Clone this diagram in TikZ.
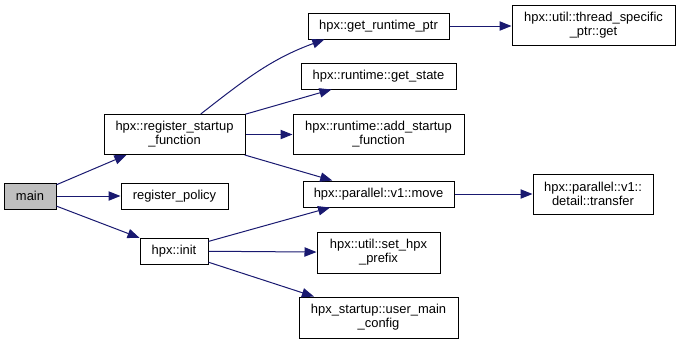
\documentclass[tikz,border=0pt]{standalone}
\usepackage{fontspec}
\setmainfont{Liberation Sans}
\usetikzlibrary{arrows.meta}
\definecolor{edgeblue}{HTML}{191970}
\definecolor{rootgray}{HTML}{BFBFBF}
\tikzset{
  fnbox/.style 2 args={draw=black, line width=0.75pt, fill=white, inner sep=0pt,
    align=center, font=\fontsize{9.7pt}{10.6pt}\selectfont,
    minimum width=#1*0.75pt, minimum height=#2*0.75pt},
  call/.style={draw=edgeblue, line width=0.75pt,
    -{Triangle[length=9pt,width=7pt]}}
}
\begin{document}
\begin{tikzpicture}[x=0.75pt,y=0.75pt]
  \useasboundingbox (0,0) rectangle (680,344);
  % functions
  \node[fnbox={52}{26}, fill=rootgray] (main) at (30,148) {main};
  \node[fnbox={141}{40}] (rsf) at (174.5,209.5) {hpx::register\_startup\\\_function};
  \node[fnbox={107}{26}] (rp) at (174.5,148) {register\_policy};
  \node[fnbox={68}{26}] (init) at (174,93) {hpx::init};
  \node[fnbox={141}{26}] (grp) at (378.5,318) {hpx::get\_runtime\_ptr};
  \node[fnbox={163}{40}] (tsp) at (593.5,318.5) {hpx::util::thread\_specific\\\_ptr::get};
  \node[fnbox={155}{26}] (gs) at (378.5,268) {hpx::runtime::get\_state};
  \node[fnbox={171}{40}] (asf) at (378.5,209.5) {hpx::runtime::add\_startup\\\_function};
  \node[fnbox={151}{26}] (move) at (378.5,150) {hpx::parallel::v1::move};
  \node[fnbox={120}{40}] (xfer) at (593,150) {hpx::parallel::v1::\\detail::transfer};
  \node[fnbox={123}{41}] (shp) at (378.5,91.5) {hpx::util::set\_hpx\\\_prefix};
  \node[fnbox={159}{41}] (umc) at (378.5,26.5) {hpx\_startup::user\_main\\\_config};
  % calls
  \draw[call] (main) -- (rsf);
  \draw[call] (main) -- (rp);
  \draw[call] (main) -- (init);
  \draw[call] (rsf.38) to[out=38,in=200] (grp.194);
  \draw[call] (rsf) -- (gs);
  \draw[call] (rsf) -- (asf);
  \draw[call] (rsf) -- (move);
  \draw[call] (grp) -- (grp.east -| tsp.west);
  \draw[call] (move) -- (xfer);
  \draw[call] (init) -- (move);
  \draw[call] (init) -- (shp);
  \draw[call] (init) -- (umc);
\end{tikzpicture}
\end{document}
